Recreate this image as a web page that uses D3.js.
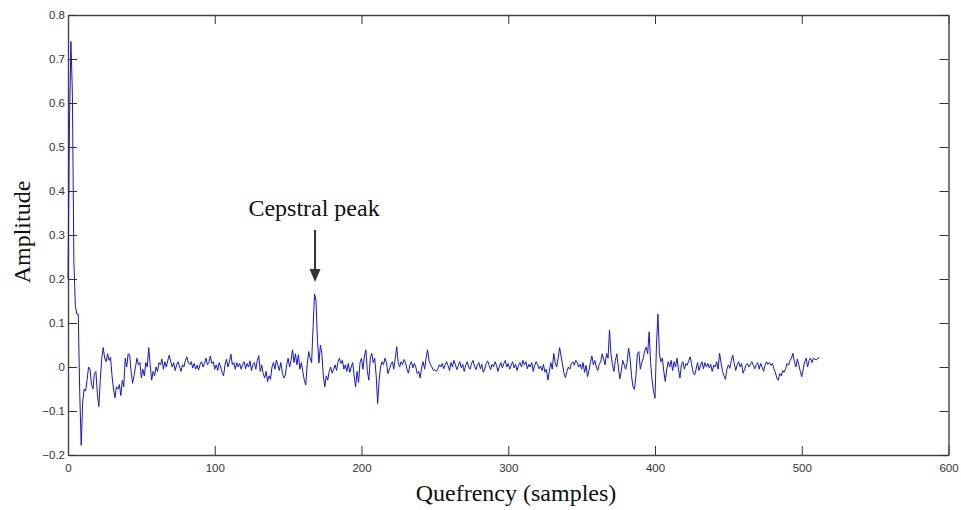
<!DOCTYPE html>
<html lang="en">
<head>
    <meta charset="UTF-8">
    <title>Cepstrum</title>
    <style>
        body { margin: 0; background: #fff; }
        .tick-label { font: 11.5px "Liberation Sans", Arial, sans-serif; fill: #333; }
        .title { font-family: "Liberation Serif", "Times New Roman", serif; font-size: 24px; fill: #111; }
    </style>
</head>
<body>
    <div id="chart"></div>

    <script src="https://d3js.org/d3.v7.min.js"></script>
    <script>
        // cepstrum amplitude per sample (quefrency = sample index)
        const amplitude = [
            0.2, 0.55, 0.74, 0.62, 0.24, 0.14, 0.12, 0.12, -0.06, -0.178,
            -0.08, -0.05, -0.055, -0.03, 0.0, -0.005, -0.04, -0.05, -0.015, -0.01,
            -0.06, -0.09, -0.03, 0.02, 0.044, 0.02, 0.012, 0.03, 0.015, 0.022,
            -0.02, -0.05, -0.07, -0.045, -0.05, -0.04, -0.065, -0.03, -0.045, 0.02,
            0.0, 0.03, 0.028, -0.01, -0.037, -0.02, 0.0, 0.02, 0.005, 0.01,
            -0.025, -0.005, -0.02, 0.01, 0.0, 0.044, 0.005, -0.03, -0.01, -0.02,
            0.0, -0.01, 0.01, 0.005, 0.018, -0.005, 0.012, 0.0, 0.015, 0.027,
            0.012, 0.0, 0.01, -0.008, 0.005, 0.012, 0.0, -0.01, 0.005, 0.0,
            0.015, 0.023, 0.01, 0.005, 0.012, -0.002, 0.008, -0.005, 0.004, -0.007,
            0.006, 0.012, 0.0, 0.008, 0.02, 0.005, 0.01, 0.025, 0.008, 0.012,
            -0.005, 0.005, -0.008, 0.01, 0.0, -0.012, -0.02, 0.005, 0.018, 0.0,
            0.012, 0.029, 0.005, 0.01, -0.005, 0.01, 0.0, 0.008, -0.005, 0.006,
            0.012, -0.004, 0.008, 0.0, 0.014, -0.008, 0.005, 0.01, -0.005, 0.015,
            0.026, -0.01, 0.005, -0.015, -0.025, -0.01, -0.033, -0.02, -0.028, 0.0,
            0.01, -0.005, 0.016, 0.005, -0.008, 0.01, -0.012, -0.025, -0.02, 0.005,
            0.02, 0.0, 0.015, 0.039, 0.01, 0.03, 0.005, 0.028, -0.005, 0.01,
            -0.01, -0.03, -0.041, 0.005, 0.035, 0.02, 0.01, 0.09, 0.166, 0.15,
            0.06, 0.009, 0.05, 0.03, -0.02, -0.045, -0.02, -0.03, -0.01, 0.0,
            -0.014, -0.005, 0.005, -0.008, 0.012, 0.02, 0.008, 0.015, -0.005, 0.005,
            -0.01, 0.008, -0.012, 0.0, 0.01, -0.02, -0.045, -0.01, -0.035, 0.01,
            0.02, -0.005, 0.025, 0.039, -0.01, -0.03, 0.02, 0.031, 0.01, 0.02,
            -0.02, -0.083, -0.03, 0.0, 0.012, 0.005, 0.02, 0.01, -0.015, -0.005,
            0.005, 0.012, -0.005, 0.02, 0.046, 0.01, 0.0, 0.012, 0.005, 0.017,
            0.01, -0.005, -0.014, 0.005, 0.012, -0.002, 0.008, 0.0, -0.015, -0.01,
            -0.025, 0.0, 0.012, -0.005, 0.02, 0.039, 0.015, 0.005, 0.0, -0.008,
            -0.006, -0.01, -0.005, 0.005, 0.0, 0.008, -0.004, 0.005, 0.012, 0.003,
            -0.008, 0.01, 0.0, 0.015, 0.005, -0.006, 0.004, 0.012, -0.002, 0.006,
            -0.01, 0.004, 0.012, 0.0, -0.005, 0.008, 0.015, 0.002, -0.006, 0.005,
            0.01, -0.004, 0.006, -0.012, -0.004, 0.008, 0.014, 0.004, -0.006, 0.006,
            0.0, 0.012, 0.004, -0.01, 0.002, 0.01, -0.002, 0.008, 0.015, 0.0,
            0.008, -0.005, 0.004, 0.012, -0.002, 0.006, -0.008, 0.004, 0.01, 0.0,
            0.015, 0.005, 0.012, -0.004, 0.006, 0.0, 0.01, -0.01, 0.004, 0.012,
            0.005, -0.004, 0.002, -0.008, 0.006, -0.012, -0.005, -0.03, -0.01, 0.01,
            -0.005, 0.031, 0.01, 0.0, 0.02, 0.044, 0.025, 0.005, -0.015, -0.024,
            -0.01, 0.0, -0.005, 0.008, 0.012, 0.004, 0.015, 0.01, 0.0, 0.006,
            -0.005, 0.01, -0.012, 0.004, -0.022, -0.008, 0.01, 0.025, 0.005, 0.015,
            0.0, -0.008, 0.006, 0.012, 0.03, 0.018, 0.005, 0.031, 0.02, 0.084,
            0.03, 0.005, -0.01, 0.015, 0.03, 0.0, -0.027, -0.01, 0.015, 0.005,
            -0.005, 0.01, 0.043, 0.02, -0.02, -0.045, -0.051, -0.02, 0.03, 0.035,
            -0.005, 0.01, 0.02, 0.037, 0.045, 0.03, 0.08, 0.01, -0.03, -0.055,
            -0.071, 0.05, 0.12, 0.03, 0.012, 0.02, -0.01, -0.033, -0.005, 0.012,
            0.0, 0.015, -0.008, 0.012, 0.0, 0.02, -0.005, -0.025, 0.005, 0.012,
            -0.005, 0.008, 0.004, 0.015, 0.023, 0.005, -0.012, -0.018, -0.005, 0.01,
            -0.008, 0.004, 0.012, -0.004, 0.01, 0.0, 0.008, -0.002, 0.006, -0.01,
            0.004, 0.0, 0.012, -0.005, 0.031, 0.01, -0.01, -0.02, -0.028, -0.005,
            0.005, -0.003, 0.015, 0.027, 0.008, -0.008, 0.005, 0.012, 0.0, 0.008,
            -0.014, -0.006, 0.004, 0.008, 0.0, 0.006, 0.012, 0.004, -0.004, 0.006,
            0.01, -0.005, 0.008, 0.0, -0.01, 0.004, 0.012, 0.006, 0.01, 0.004,
            0.008, -0.004, -0.012, -0.025, -0.03, -0.015, -0.02, -0.008, -0.012, -0.004,
            0.008, 0.004, 0.015, 0.02, 0.031, 0.012, 0.0, 0.018, 0.005, -0.01,
            -0.022, -0.005, 0.012, 0.02, 0.0, 0.015, 0.02, 0.01, 0.02, 0.018,
            0.016, 0.02, 0.021
        ];
        const xTicks = [0, 100, 200, 300, 400, 500, 600];
        const yTicks = [-0.2, -0.1, 0, 0.1, 0.2, 0.3, 0.4, 0.5, 0.6, 0.7, 0.8];
        const peak = { quefrency: 168, amplitude: 0.166, label: 'Cepstral peak' };

        const width = 961, height = 510;
        const margin = { top: 15, right: 12.5, bottom: 55, left: 68 };

        const svg = d3.select('#chart').append('svg')
            .attr('width', width)
            .attr('height', height);

        const x = d3.scaleLinear().domain([0, 600]).range([margin.left, width - margin.right]);
        const y = d3.scaleLinear().domain([-0.2, 0.8]).range([height - margin.bottom, margin.top]);

        const tickLen = 9;
        const fmt = d => d === 0 ? '0' : d3.format('.1f')(d);

        // axes on all four sides, ticks pointing in (matlab style)
        const axisStyle = g => {
            g.select('.domain').attr('stroke', '#444').attr('stroke-width', 1.4);
            g.selectAll('.tick line').attr('stroke', '#333').attr('stroke-width', 1);
        };

        svg.append('g')
            .attr('transform', `translate(0,${y(-0.2)})`)
            .call(d3.axisBottom(x).tickValues(xTicks).tickSizeInner(-tickLen).tickSizeOuter(0).tickPadding(6).tickFormat(d3.format('d')))
            .call(axisStyle)
            .call(g => g.selectAll('text').attr('class', 'tick-label').attr('font-size', null).attr('font-family', null).attr('fill', null).attr('dy', '0.95em'));

        svg.append('g')
            .attr('transform', `translate(0,${y(0.8)})`)
            .call(d3.axisTop(x).tickValues(xTicks).tickSizeInner(-tickLen).tickSizeOuter(0).tickFormat(''))
            .call(axisStyle);

        svg.append('g')
            .attr('transform', `translate(${x(0)},0)`)
            .call(d3.axisLeft(y).tickValues(yTicks).tickSizeInner(-tickLen).tickSizeOuter(0).tickPadding(3).tickFormat(fmt))
            .call(axisStyle)
            .call(g => g.selectAll('text').attr('class', 'tick-label').attr('font-size', null).attr('font-family', null).attr('fill', null));

        svg.append('g')
            .attr('transform', `translate(${x(600)},0)`)
            .call(d3.axisRight(y).tickValues(yTicks).tickSizeInner(-tickLen).tickSizeOuter(0).tickFormat(''))
            .call(axisStyle);

        // hide the end ticks that sit on the box corners
        svg.selectAll('.tick').filter(d => d === 0 && false).remove();

        const line = d3.line()
            .x((d, i) => x(i))
            .y(d => y(d));

        svg.append('path')
            .datum(amplitude)
            .attr('fill', 'none')
            .attr('stroke', '#1414e0')
            .attr('stroke-width', 1)
            .attr('stroke-linejoin', 'round')
            .attr('d', line);

        // annotation arrow pointing at the cepstral peak
        const ax = x(peak.quefrency) + 0.5;
        const tipY = y(peak.amplitude) - 12;
        svg.append('line')
            .attr('x1', ax).attr('x2', ax)
            .attr('y1', tipY - 52).attr('y2', tipY - 10)
            .attr('stroke', '#333').attr('stroke-width', 2);
        svg.append('path')
            .attr('d', `M${ax - 5.5},${tipY - 13} L${ax + 5.5},${tipY - 13} L${ax},${tipY} Z`)
            .attr('fill', '#333');

        svg.append('text')
            .attr('class', 'title')
            .attr('x', ax - 1)
            .attr('y', 216)
            .attr('text-anchor', 'middle')
            .text(peak.label);

        svg.append('text')
            .attr('class', 'title')
            .attr('x', 516)
            .attr('y', 501)
            .attr('text-anchor', 'middle')
            .text('Quefrency (samples)');

        svg.append('text')
            .attr('class', 'title')
            .attr('transform', `translate(30,${(y(0.8) + y(-0.2)) / 2 - 3}) rotate(-90)`)
            .attr('text-anchor', 'middle')
            .text('Amplitude');
    </script>
</body>
</html>
